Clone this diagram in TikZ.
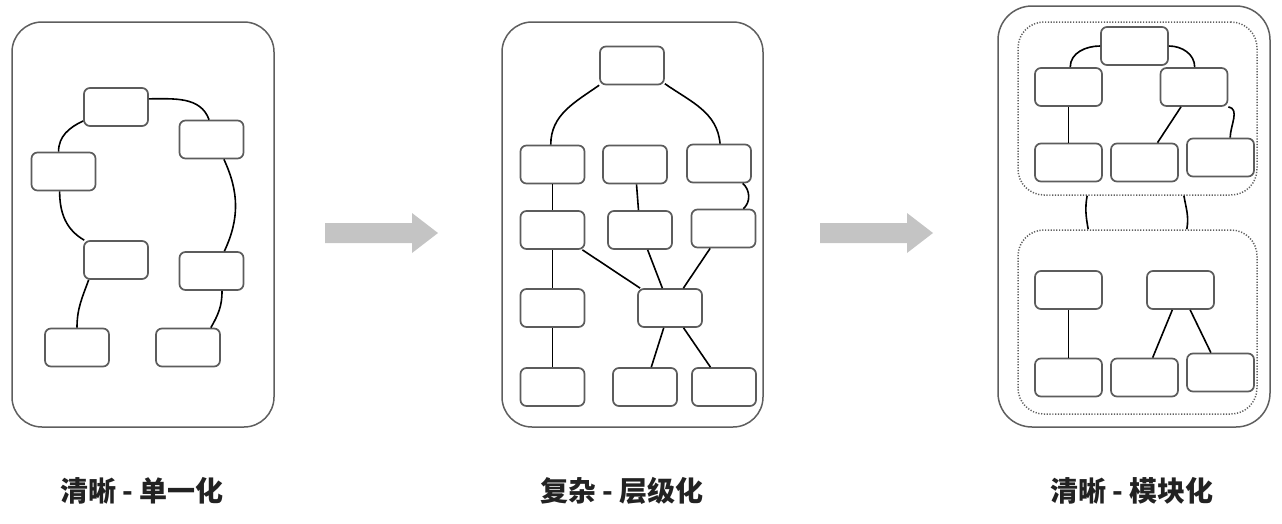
\documentclass[tikz,border=0pt]{standalone}
\usepackage{fontspec}
\newfontfamily\cjk{Noto Sans CJK SC}
\usetikzlibrary{calc}
\definecolor{framegray}{HTML}{5E5E5E}
\definecolor{boxgray}{HTML}{5C5C5C}
\definecolor{dotgray}{HTML}{606060}
\definecolor{arrowgray}{HTML}{C4C4C4}
\definecolor{labeltext}{HTML}{222222}
\tikzset{
  panel/.style={draw=framegray,line width=1.5pt,rounded corners=30pt,inner sep=0pt},
  group/.style={draw=dotgray,line width=1.5pt,dash pattern=on 1.2pt off 1.6pt,rounded corners=26pt,inner sep=0pt},
  bx/.style={draw=boxgray,line width=1.7pt,rounded corners=6pt,minimum width=64pt,minimum height=38pt,inner sep=0pt,fill=white},
  bxw/.style={bx,minimum width=67pt},
  link/.style={draw=black,line width=1.6pt},
  bigarrow/.style={fill=arrowgray},
  caption/.style={text=labeltext,font=\cjk\bfseries\fontsize{28}{30}\selectfont,inner sep=0pt}
}
\begin{document}
\begin{tikzpicture}[x=1pt,y=-1pt]
\useasboundingbox (0,0) rectangle (1282,523);
% ---------- panel 1 ----------
\node[panel,minimum width=262pt,minimum height=405pt] (P1) at (143,224.5) {};
\node[bx] (a1) at (116,107) {};
\node[bx] (b1) at (211.5,139.5) {};
\node[bx] (c1) at (63.5,171.5) {};
\node[bx] (d1) at (116,260) {};
\node[bx] (e1) at (211.5,271) {};
\node[bx] (f1) at (77,347.5) {};
\node[bx] (g1) at (188,347.5) {};
\draw[link] (a1.14) to[out=0,in=110] (b1.97);
\draw[link] (a1.203) to[out=205,in=90] (c1.104);
\draw[link] (c1.-101) to[out=270,in=150] (d1.148);
\draw[link] (b1.-58) to[out=-65,in=65] (e1.57);
\draw[link] (d1.216) to[out=250,in=90] (f1.90);
\draw[link] (e1.-62) to[out=-90,in=60] (g1.41);
% ---------- arrow 1 ----------
\fill[bigarrow] (325,223) -- (412,223) -- (412,213) -- (438,233) -- (412,253) -- (412,243) -- (325,243) -- cycle;
% ---------- panel 2 ----------
\node[panel,minimum width=261pt,minimum height=405pt] (P2) at (632.5,224.5) {};
\node[bx] (t2) at (632,65.5) {};
\node[bx] (l21) at (552.5,164.5) {};
\node[bx] (m21) at (635,164.5) {};
\node[bx] (r21) at (719,163.5) {};
\node[bx] (l22) at (552.5,230) {};
\node[bx] (m22) at (640,230) {};
\node[bx] (r22) at (723.5,228.5) {};
\node[bx] (l23) at (552.5,308) {};
\node[bx] (c23) at (670,308) {};
\node[bx] (l24) at (552.5,387) {};
\node[bx] (m24) at (645,387) {};
\node[bx] (r24) at (724,387) {};
\draw[link] (t2.211) to[out=215,in=90] (l21.95);
\draw[link] (t2.-29) to[out=-35,in=95] (r21.87);
\draw[link] (l21) -- (l22);
\draw[link] (m21) -- (m22);
\draw[link] (r21.-40) to[out=-40,in=40] (r22.45);
\draw[link] (l22) -- (l23);
\draw[link] (l22) -- (c23);
\draw[link] (m22) -- (c23);
\draw[link] (r22) -- (c23);
\draw[link] (l23) -- (l24);
\draw[link] (c23) -- (m24);
\draw[link] (c23) -- (r24);
% ---------- arrow 2 ----------
\fill[bigarrow] (820,223) -- (907,223) -- (907,213) -- (933,233) -- (907,253) -- (907,243) -- (820,243) -- cycle;
% ---------- panel 3 ----------
\node[panel,rounded corners=34pt,minimum width=272pt,minimum height=421pt] (P3) at (1134,216.5) {};
\node[group,minimum width=239pt,minimum height=173pt] (up3) at (1137.5,108.5) {};
\node[group,minimum width=239pt,minimum height=184pt] (lo3) at (1137.5,322) {};
\node[bxw] (t3) at (1134.5,46) {};
\node[bxw] (ul3) at (1068.5,87) {};
\node[bxw] (ur3) at (1194,87) {};
\node[bxw] (bl3) at (1068.5,162.5) {};
\node[bxw] (bm3) at (1144.5,162.5) {};
\node[bxw] (br3) at (1220.5,157.5) {};
\node[bxw] (ll3) at (1068.5,290) {};
\node[bxw] (lr3) at (1180.5,290) {};
\node[bxw] (lbl3) at (1068.5,377.5) {};
\node[bxw] (lbm3) at (1144.5,377.5) {};
\node[bxw] (lbr3) at (1220.5,372.5) {};
\draw[link] (t3.west) to[out=180,in=90] (ul3.85);
\draw[link] (t3.east) to[out=0,in=90] (ur3.88);
\draw[link] (ul3) -- (bl3);
\draw[link] (ur3) -- (bm3);
\draw[link] (ur3.-30) to[out=-10,in=90] (br3.64);
\draw[link] (up3.240.2) to[out=260,in=100] (lo3.118.3);
\draw[link] (up3.298.8) to[out=-80,in=80] (lo3.62.7);
\draw[link] (ll3) -- (lbl3);
\draw[link] (lr3) -- (lbm3);
\draw[link] (lr3) -- (lbr3);
% ---------- captions ----------
\node[caption] (cap1) at (142,491) {清晰 - 单一化};
\node[caption] (cap2) at (622,491) {复杂 - 层级化};
\node[caption] (cap3) at (1132,491) {清晰 - 模块化};
\end{tikzpicture}
\end{document}
